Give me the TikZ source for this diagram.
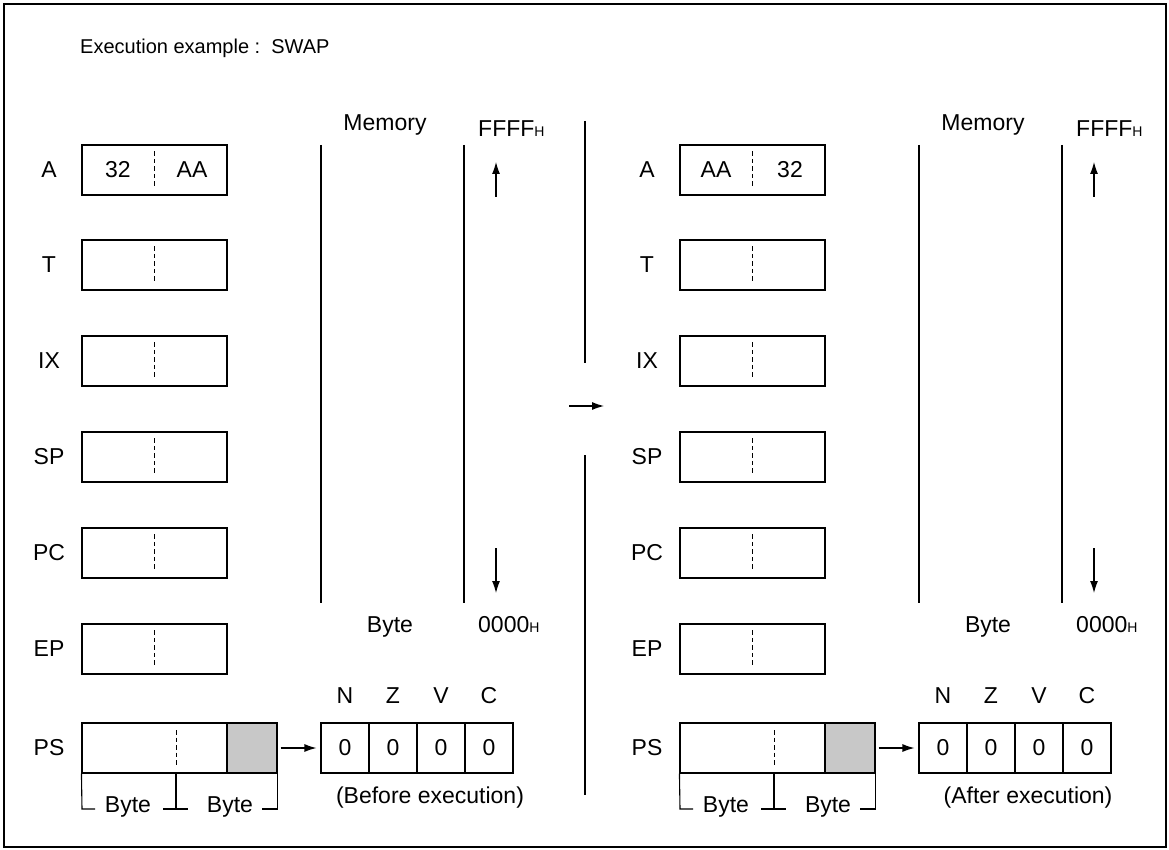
\documentclass[tikz,border=0pt]{standalone}
\usepackage{fontspec}
\setmainfont{Liberation Sans}
\usetikzlibrary{arrows.meta}
\newcommand\regpanel[5]{%
\begin{scope}[xshift=#1pt]
  \foreach \r/\yy in {A/170,T/265,IX/361,SP/457,PC/553,EP/649} {
    \node[lbl] (l\r#2) at (49,\yy) {\r};
    \node[reg] (b\r#2) at (154.5,\yy) {};
    \draw[divl] ([yshift=-7pt]b\r#2.north) -- ([yshift=7pt]b\r#2.south);
  }
  \node[lbl] (av1#2) at (118,170) {#3};
  \node[lbl] (av2#2) at (192,170) {#4};
  % PS register
  \node[lbl] (lPS#2) at (49,748) {PS};
  \node[reg, minimum width=195pt] (ps#2) at (179.5,748) {};
  \node[reg, minimum width=50pt, fill=psgray] (psf#2) at (252,748) {};
  \draw[divl] (176,730) -- (176,766);
  \draw[thin1] (ps#2.south west) -- (82,809) -- (95,809);
  \draw[thin1] (176,773) -- (176,809);
  \draw[thin1] (163,809) -- (188,809);
  \draw[thin1] (262,809) -- (ps#2.south east |- 0,809) -- (ps#2.south east);
  \node[lbl] (by1#2) at (128,807) {Byte};
  \node[lbl] (by2#2) at (230,807) {Byte};
  % flags
  \foreach \f/\xx in {N/345,Z/393,V/441,C/489} {
    \node[cell] (f\f#2) at (\xx,748) {0};
    \node[lbl, anchor=base] (t\f#2) at (\xx,703) {\f};
  }
  \draw[arr, shorten <=3pt, shorten >=4pt] (psf#2.east) -- (fN#2.west);
  \node[lbl] (cap#2) at (430,798) {#5};
  % memory
  \coordinate (m1t#2) at (321,145); \coordinate (m1b#2) at (321,603);
  \coordinate (m2t#2) at (464,145); \coordinate (m2b#2) at (464,603);
  \draw[memline] (m1t#2) -- (m1b#2);
  \draw[memline] (m2t#2) -- (m2b#2);
  \node[lbl] (mem#2) at (385,125) {Memory};
  \node[lbl, anchor=base west] (ff#2) at (478,137) {FFFF{\fontsize{14}{14}\selectfont H}};
  \node[lbl, anchor=base] (mb#2) at (390,632) {Byte};
  \node[lbl, anchor=base west] (zz#2) at (478,632) {0000{\fontsize{14}{14}\selectfont H}};
  \coordinate (u1#2) at (496,197); \coordinate (u2#2) at (496,162);
  \coordinate (d1#2) at (496,548); \coordinate (d2#2) at (496,593);
  \draw[arr] (u1#2) -- (u2#2);
  \draw[arr] (d1#2) -- (d2#2);
\end{scope}}
\definecolor{psgray}{HTML}{C8C8C8}
\begin{document}
\begin{tikzpicture}[x=1pt,y=-1pt, font=\fontsize{23}{27}\selectfont,
  reg/.style={draw, line width=1.1pt, minimum width=145pt, minimum height=50pt, inner sep=0pt},
  cell/.style={draw, line width=1.1pt, minimum width=48pt, minimum height=50pt, inner sep=0pt},
  divl/.style={line width=0.9pt, dash pattern=on 4.5pt off 3pt},
  thin1/.style={line width=1.1pt},
  memline/.style={line width=1.3pt},
  arr/.style={-{Latex[length=12pt,width=8pt]}, line width=1.1pt},
  lbl/.style={inner sep=0pt}]
\useasboundingbox (0,0) rectangle (1169,850);
\draw[line width=1.6pt] (4,4) rectangle (1166,847);
\node[lbl, anchor=base west, font=\fontsize{20}{24}\selectfont] (title) at (80,54) {Execution example :\ \ SWAP};
\regpanel{0}{L}{32}{AA}{(Before execution)}
\regpanel{598}{R}{AA}{32}{(After execution)}
% middle divider
\coordinate (mdt) at (585,121); \coordinate (mdm1) at (585,363);
\coordinate (mdm2) at (585,455); \coordinate (mdb) at (585,795);
\draw[memline] (mdt) -- (mdm1);
\draw[memline] (mdm2) -- (mdb);
\coordinate (ma1) at (569,406); \coordinate (ma2) at (604,406);
\draw[arr] (ma1) -- (ma2);
\end{tikzpicture}
\end{document}
